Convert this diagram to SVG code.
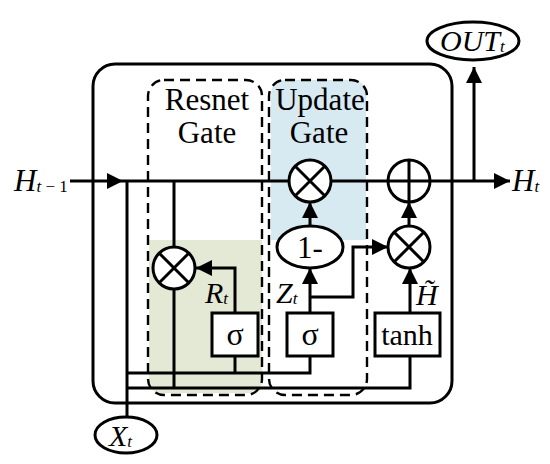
<svg xmlns="http://www.w3.org/2000/svg" width="550" height="464" viewBox="0 0 550 464">
<style>
.ln{fill:none;stroke:#000;stroke-width:3}
.box{fill:#fff;stroke:#000;stroke-width:3}
.dash{fill:none;stroke:#000;stroke-width:2.4;stroke-dasharray:10 6}
.t{font-family:"Liberation Serif","Times New Roman",serif;fill:#000}
.i{font-style:italic}
.sub{font-size:17px}
</style>
<defs>
<marker id="ah" viewBox="0 0 16 16" refX="16" refY="8" markerWidth="16" markerHeight="16" markerUnits="userSpaceOnUse" orient="auto">
<path d="M0,0 L16,8 L0,16 Z" fill="#000"/>
</marker>
</defs>
<rect width="550" height="464" fill="#fff"/>
<!-- fills -->
<path d="M149,240 H262 V380 Q262,393 249,393 H163 Q149,393 149,380 Z" fill="#e4e9d5"/>
<path d="M271,240 H366 V95 Q366,80 351,80 H286 Q271,80 271,95 Z" fill="#d7e9f1"/>
<!-- outer cell -->
<rect id="cell" x="93" y="64" width="359" height="339" rx="22" class="ln"/>
<!-- gate boxes -->
<g id="resnet-gate">
<rect x="148" y="80" width="114" height="315" rx="16" class="dash"/>
<text class="t" x="207" y="110" font-size="31" text-anchor="middle">Resnet</text>
<text class="t" x="207" y="143" font-size="31" text-anchor="middle">Gate</text>
</g>
<g id="update-gate">
<rect x="269" y="80" width="98" height="315" rx="16" class="dash"/>
<text class="t" x="320" y="110" font-size="31" text-anchor="middle">Update</text>
<text class="t" x="319" y="143" font-size="31" text-anchor="middle">Gate</text>
</g>
<!-- connectors -->
<g id="connectors" class="ln">
<path d="M70,181 H123" marker-end="url(#ah)"/>
<path d="M123,181 H510" marker-end="url(#ah)"/>
<path d="M474,181 V67" marker-end="url(#ah)"/>
<path d="M127,181 V418"/>
<path d="M174,181 V247"/>
<path d="M174,289 V388"/>
<path d="M127,373 H310 V356"/>
<path d="M235,373 V356"/>
<path d="M127,388 H410 V356"/>
<path d="M235,313 V268 H196" marker-end="url(#ah)"/>
<path d="M310,313 V268" marker-end="url(#ah)"/>
<path d="M310,297 H353 V247 H388" marker-end="url(#ah)"/>
<path d="M410,313 V268" marker-end="url(#ah)"/>
<path d="M310,226 V202" marker-end="url(#ah)"/>
<path d="M409,226 V202" marker-end="url(#ah)"/>
</g>
<!-- nodes -->
<g id="mul-resnet">
<circle cx="174" cy="268" r="21" class="box"/>
<path d="M159,253 L189,283 M189,253 L159,283" class="ln"/>
</g>
<g id="mul-update">
<circle cx="310" cy="181" r="21" class="box"/>
<path d="M295,166 L325,196 M325,166 L295,196" class="ln"/>
</g>
<g id="add">
<circle cx="409" cy="181" r="21" class="box"/>
<path d="M388,181 H430 M409,160 V202" class="ln"/>
</g>
<g id="mul-cand">
<circle cx="409" cy="247" r="21" class="box"/>
<path d="M394,232 L424,262 M424,232 L394,262" class="ln"/>
</g>
<g id="one-minus">
<ellipse cx="310" cy="247" rx="33" ry="21" class="box"/>
<text class="t" x="310" y="258" font-size="31" text-anchor="middle">1-</text>
</g>
<g id="sigma-r">
<rect x="212" y="313" width="46" height="43" class="box"/>
<text class="t" x="235" y="345" font-size="32" text-anchor="middle">σ</text>
</g>
<g id="sigma-z">
<rect x="287" y="313" width="46" height="43" class="box"/>
<text class="t" x="310" y="345" font-size="32" text-anchor="middle">σ</text>
</g>
<g id="tanh">
<rect x="375" y="313" width="65" height="43" class="box"/>
<text class="t" x="407" y="345" font-size="30" text-anchor="middle">tanh</text>
</g>
<g id="out">
<ellipse cx="473" cy="41" rx="46" ry="19" class="box"/>
<text class="t i" x="440" y="51" font-size="30">OUT<tspan class="sub" dy="1">t</tspan></text>
</g>
<g id="xt">
<ellipse cx="126" cy="435" rx="31" ry="18" class="box"/>
<text class="t i" x="109" y="446" font-size="30">X<tspan class="sub" dy="1">t</tspan></text>
</g>
<!-- labels -->
<text class="t i" x="14" y="191" font-size="31">H<tspan class="sub" dy="1">t</tspan><tspan class="sub" font-style="normal"> − 1</tspan></text>
<text class="t i" x="512" y="191" font-size="31">H<tspan class="sub" dy="1">t</tspan></text>
<text class="t i" x="205" y="303" font-size="30">R<tspan class="sub" dy="1">t</tspan></text>
<text class="t i" x="276" y="303" font-size="30">Z<tspan class="sub" dy="1">t</tspan></text>
<text class="t i" x="416" y="305" font-size="30">H&#x303;</text>
</svg>
